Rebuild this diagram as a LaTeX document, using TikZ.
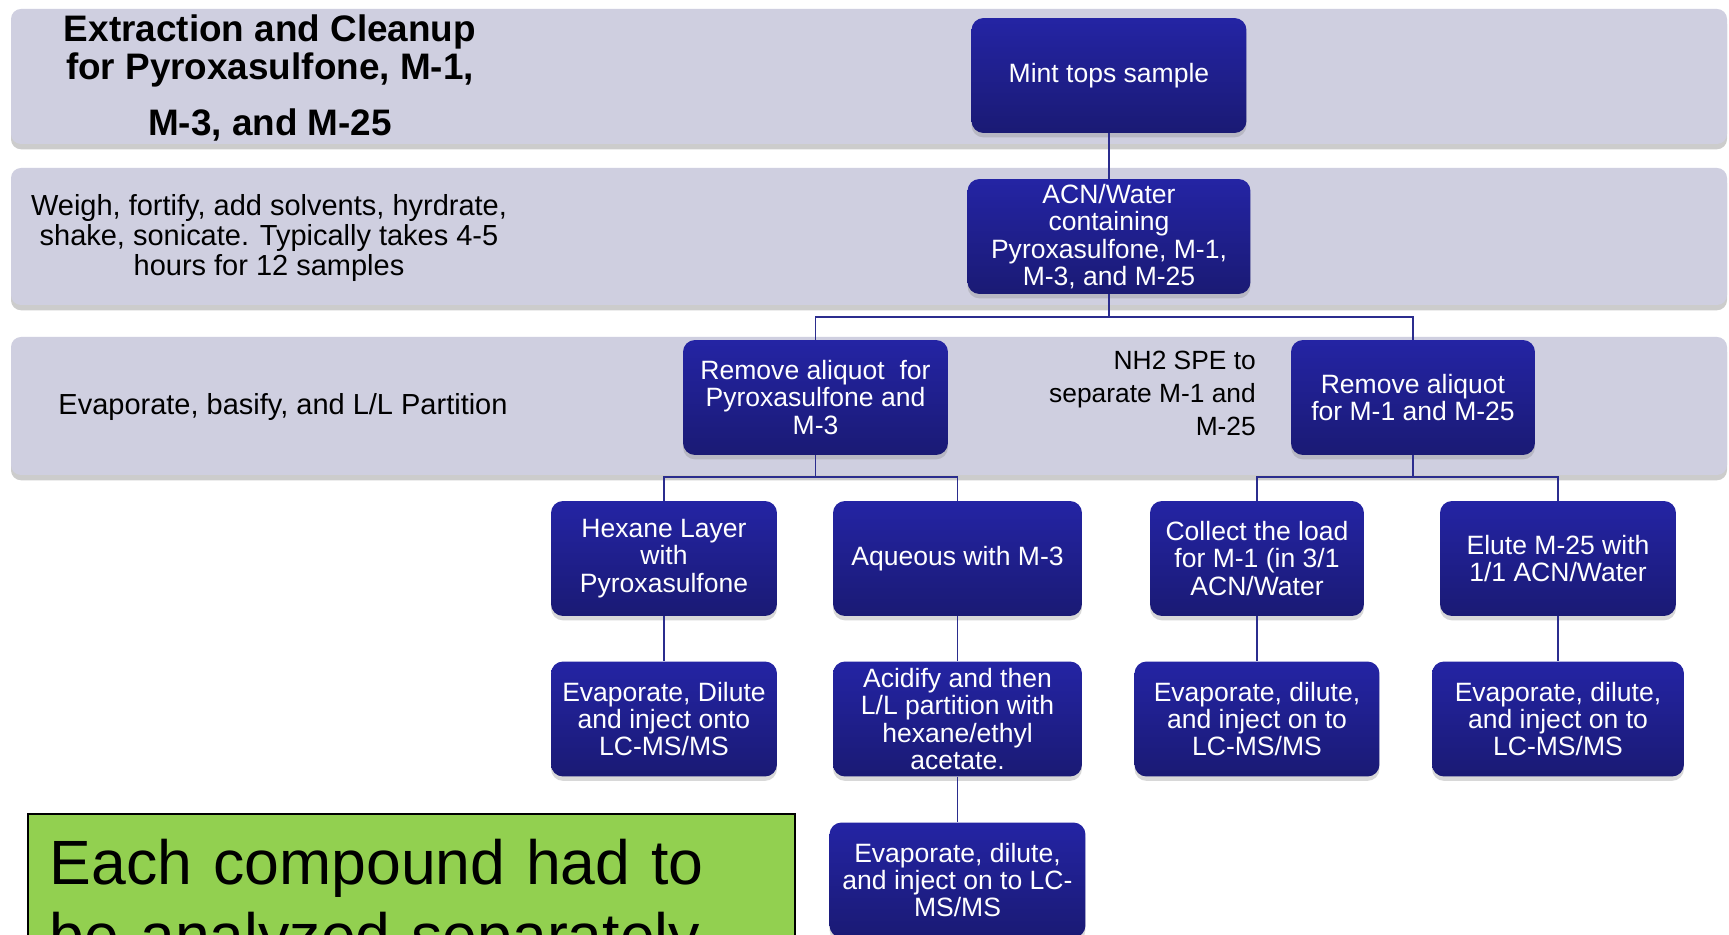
\documentclass[tikz,border=0pt]{standalone}
\usepackage{fontspec}
\setmainfont{Liberation Sans}
\usepackage{xcolor}
\definecolor{flowTop}{HTML}{2424A4}
\definecolor{flowBottom}{HTML}{1A1A74}
\definecolor{flowBand}{HTML}{CFCFE0}
\definecolor{flowLink}{HTML}{2B2D8E}
\definecolor{flowNote}{HTML}{92D050}
\usetikzlibrary{shadows}

\begin{document}
\begin{tikzpicture}[x=0.02cm, y=-0.02cm,
  stage/.style={rectangle, rounded corners=0.24cm, draw=none, top color=flowTop, bottom color=flowBottom,
    text=white, align=center, inner sep=0pt, minimum height=2.3cm, font=\fontsize{15.1}{15.6}\selectfont,
    drop shadow={shadow xshift=0pt, shadow yshift=-2.5pt, opacity=0.3}},
  band/.style={fill=flowBand, rounded corners=0.2cm,
    drop shadow={shadow xshift=0pt, shadow yshift=-3pt, opacity=0.4}},
  bandtext/.style={align=center, font=\fontsize{16.5}{17.2}\selectfont},
  link/.style={flowLink, line width=1.1pt}]
  \useasboundingbox (0,0) rectangle (1729,935);
  \clip (0,0) rectangle (1729,935);
  \fill[white] (0,0) rectangle (1729,935);
  % bands
  \fill[band] (11,9) rectangle (1727,144);
  \fill[band] (11,168) rectangle (1727,305);
  \fill[band] (11,337) rectangle (1727,475);
  \node[align=center, font=\bfseries\fontsize{21}{21.6}\selectfont] (title) at (270,78) {Extraction and Cleanup\\for Pyroxasulfone, M-1,\\[10.5pt]M-3, and M-25};
  \node[bandtext] (prepText) at (269,238) {Weigh, fortify, add solvents, hyrdrate,\\shake, sonicate. Typically takes 4-5\\hours for 12 samples};
  \node[bandtext] (partText) at (283,407) {Evaporate, basify, and L/L Partition};
  \node[align=right, anchor=east, font=\fontsize{15}{18.8}\selectfont] (speText) at (1262,393) {NH2 SPE to\\separate M-1 and\\M-25};
  % boxes
  \node[stage, minimum width=5.5cm] (mint) at (1109,75.5) {Mint tops sample};
  \node[stage, minimum width=5.66cm] (acn) at (1109,236.5) {ACN/Water\\containing\\Pyroxasulfone, M-1,\\M-3, and M-25};
  \node[stage, minimum width=5.3cm] (remPyr) at (815.5,397.5) {Remove aliquot\ \ for\\Pyroxasulfone and\\M-3};
  \node[stage, minimum width=4.88cm] (remM) at (1413,397.5) {Remove aliquot\\for M-1 and M-25};
  \node[stage, minimum width=4.52cm] (hexane) at (664,558.5) {Hexane Layer\\with\\Pyroxasulfone};
  \node[stage, minimum width=4.98cm] (aqueous) at (957.5,558.5) {Aqueous with M-3};
  \node[stage, minimum width=4.28cm] (collect) at (1257,558.5) {Collect the load\\for M-1 (in 3/1\\ACN/Water};
  \node[stage, minimum width=4.72cm] (elute) at (1558,558.5) {Elute M-25 with\\1/1 ACN/Water};
  \node[stage, minimum width=4.52cm] (evapHex) at (664,719) {Evaporate, Dilute\\and inject onto\\LC-MS/MS};
  \node[stage, minimum width=4.98cm] (acidify) at (957.5,719) {Acidify and then\\L/L partition with\\hexane/ethyl\\acetate.};
  \node[stage, minimum width=4.9cm] (evapM1) at (1257,719) {Evaporate, dilute,\\and inject on to\\LC-MS/MS};
  \node[stage, minimum width=5.04cm] (evapM25) at (1558,719) {Evaporate, dilute,\\and inject on to\\LC-MS/MS};
  \node[stage, minimum width=5.12cm] (evapM3) at (957.5,880) {Evaporate, dilute,\\and inject on to LC-\\MS/MS};
  % links
  \draw[link] (mint) -- (acn);
  \draw[link] (acn.south) -- ++(0,23) -| (remPyr.north);
  \draw[link] (acn.south) -- ++(0,23) -| (remM.north);
  \draw[link] (remPyr.south) -- ++(0,22) -| (hexane.north);
  \draw[link] (remPyr.south) -- ++(0,22) -| (aqueous.north);
  \draw[link] (remM.south) -- ++(0,22) -| (collect.north);
  \draw[link] (remM.south) -- ++(0,22) -| (elute.north);
  \draw[link] (hexane) -- (evapHex);
  \draw[link] (aqueous) -- (acidify);
  \draw[link] (acidify) -- (evapM3);
  \draw[link] (collect) -- (evapM1);
  \draw[link] (elute) -- (evapM25);
  % note
  \node[draw=black, line width=1.1pt, fill=flowNote, anchor=north west, align=left, text width=14.46cm,
    inner xsep=0.44cm, inner ysep=0.5cm, font=\fontsize{35.6}{41.5}\selectfont] (note) at (27,813)
    {Each compound had to be analyzed separately};
\end{tikzpicture}
\end{document}
